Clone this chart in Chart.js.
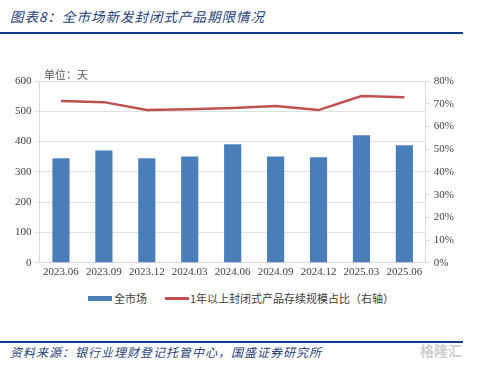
<!DOCTYPE html>
<html><head><meta charset="utf-8">
<script src="https://cdn.jsdelivr.net/npm/chart.js@4/dist/chart.umd.min.js"></script>
<style>
html,body{margin:0;padding:0;background:#fff;width:490px;height:367px;overflow:hidden;}
#title{position:absolute;left:10px;top:6px;font-family:"Noto Sans CJK SC";font-style:italic;font-size:13.5px;color:#1F3F7A;letter-spacing:1px;}
.rule{position:absolute;left:0;width:463px;height:2px;background:#0B3C8C;}
#unit{position:absolute;left:44px;top:66px;font-family:"Noto Sans CJK SC";font-size:11px;color:#595959;}
#src{position:absolute;left:10px;top:343px;font-family:"Noto Sans CJK SC";font-style:italic;font-size:12px;color:#1F3F7A;letter-spacing:1px;}
#wm{position:absolute;left:420px;top:340px;font-family:"Noto Sans CJK SC";font-size:14px;font-weight:bold;color:#D0D0D0;}
#box{position:absolute;left:0;top:40px;width:480px;height:242px;}
.lg{position:absolute;font-family:"Noto Sans CJK SC";font-size:11px;color:#404040;line-height:14px;}
.sw{position:absolute;}
</style></head><body>
<div id="title">图表8：全市场新发封闭式产品期限情况</div>
<div class="rule" style="top:32px"></div>
<div id="box"><canvas id="c"></canvas></div>
<div id="unit">单位：天</div>
<div class="sw" style="left:88px;top:296px;width:24px;height:5px;background:#4A7EBB"></div>
<div class="lg" id="lg0" style="left:114px;top:291px"></div>
<div class="sw" style="left:165px;top:297px;width:24px;height:3px;background:#C0504D"></div>
<div class="lg" id="lg1" style="left:190px;top:291px"></div>
<div class="rule" style="top:341px"></div>
<div id="src">资料来源：银行业理财登记托管中心，国盛证券研究所</div>
<div id="wm">格隆汇</div>
<script>
const categories = ["2023.06","2023.09","2023.12","2024.03","2024.06","2024.09","2024.12","2025.03","2025.06"];
const marketDays = [345, 371, 345, 351, 391, 351, 348, 421, 388];
const longShare = [71.2, 70.7, 67.2, 67.6, 68.1, 69.0, 67.2, 73.4, 72.9];
const seriesNames = ["全市场", "1年以上封闭式产品存续规模占比（右轴）"];
document.getElementById('lg0').textContent = seriesNames[0];
document.getElementById('lg1').textContent = seriesNames[1];

const tickFont = {family: "Liberation Serif", size: 11};
new Chart(document.getElementById('c'), {
  data: {
    labels: categories,
    datasets: [
      {type:'line', label: seriesNames[1], data: longShare, yAxisID:'y1', borderColor:'#C0504D', backgroundColor:'#C0504D', borderWidth:2.5, pointRadius:0, tension:0, order:0},
      {type:'bar', label: seriesNames[0], data: marketDays, yAxisID:'y', backgroundColor:'#4A7EBB', barPercentage:0.4, categoryPercentage:1, order:1}
    ]
  },
  options: {
    responsive:true, maintainAspectRatio:false, animation:false,
    layout:{padding:{left:11,right:22,top:41,bottom:0}},
    plugins:{ legend:{display:false}, tooltip:{enabled:false} },
    scales:{
      x:{grid:{display:false, drawTicks:false}, border:{color:'#D9D9D9'}, ticks:{font:tickFont, color:'#404040', padding:3}},
      y:{position:'left', min:0, max:600, ticks:{stepSize:100, font:tickFont, color:'#404040', padding:4}, grid:{color:'#E0E0E0', tickLength:4}, border:{color:'#D9D9D9'}},
      y1:{position:'right', min:0, max:80, ticks:{stepSize:10, font:tickFont, color:'#404040', padding:4, callback:v=>v+'%'}, grid:{drawOnChartArea:false, color:'#D9D9D9', tickLength:4}, border:{color:'#D9D9D9'}}
    }
  }
});
</script>
</body></html>
